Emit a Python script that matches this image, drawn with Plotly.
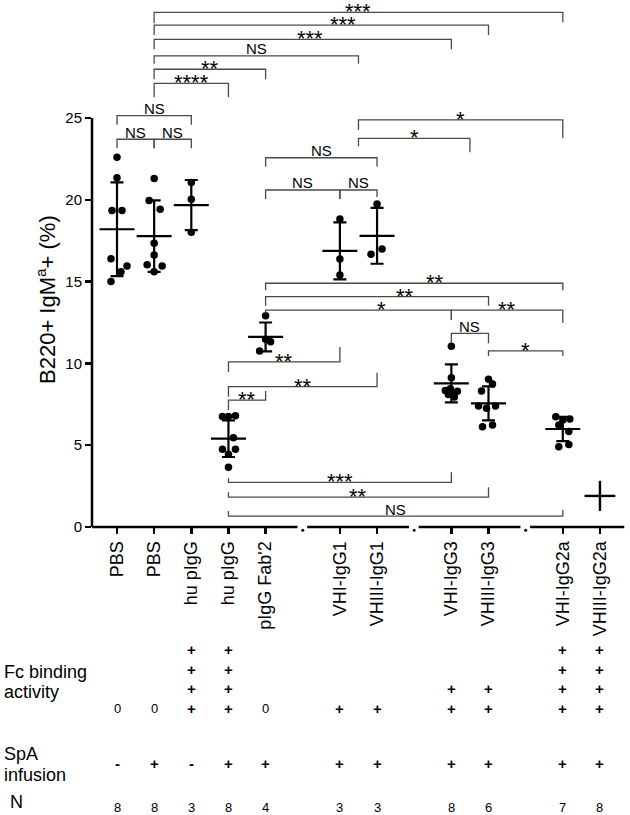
import plotly.graph_objects as go

# ---------------- data ----------------
groups = ["PBS", "PBS", "hu pIgG", "hu pIgG", "pIgG Fab'2", "VHI-IgG1", "VHIII-IgG1",
          "VHI-IgG3", "VHIII-IgG3", "VHI-IgG2a", "VHIII-IgG2a"]
slots = [0, 1, 2, 3, 4, 6, 7, 9, 10, 12, 13]
break_slots = [5, 8, 11]

points = [
    [22.6, 21.35, 19.35, 19.35, 16.4, 15.95, 15.6, 15.0],
    [21.3, 19.95, 19.42, 17.34, 16.63, 16.03, 15.95, 15.6],
    [21.05, 20.03, 18.01],
    [6.75, 6.75, 6.8, 5.45, 4.75, 4.75, 4.45, 3.65],
    [12.92, 11.47, 11.33, 10.76],
    [18.83, 16.38, 15.4],
    [19.74, 16.67, 16.99],
    [11.05, 9.13, 8.35, 8.3, 8.25, 8.1, 7.95, 8.45],
    [9.03, 8.74, 8.31, 7.4, 7.26, 7.4, 6.13, 6.23],
    [6.74, 6.54, 6.6, 6.23, 5.83, 4.91, 5.05],
    [],
]
jitter_px = [
    [0, 0, -5, 5, -6, 10, 4, -6],
    [0, -5, 6, 0, 0, -7, 8, 0],
    [0, 0, 0],
    [-6, 0, 7, 5, -6, 7, 0, 0],
    [0, 0, 5, -6],
    [0, 0, 0],
    [0, -6, 5],
    [0, 0, -6, 6, 0, -3, 3, -1],
    [0, 4, -7, -10, -2, 7, -6, 4],
    [-7, 0, 7, -4, 6, -4, 6],
    [],
]
means = [18.2, 17.78, 19.68, 5.4, 11.62, 16.88, 17.8, 8.78, 7.56, 5.99, 1.9]
sds = [2.86, 2.19, 1.53, 1.12, 0.88, 1.74, 1.71, 1.16, 1.04, 0.74, 0.92]

y_ticks = [0, 5, 10, 15, 20, 25]

fc_binding = [0, 0, 4, 4, 0, 1, 1, 2, 2, 4, 4]
spa_infusion = ["-", "+", "-", "+", "+", "+", "+", "+", "+", "+", "+"]
n_values = [8, 8, 3, 8, 4, 3, 3, 8, 6, 7, 8]

# brackets: (from slot, to slot, level, label, left tick px (+down), right tick px (+down), label dx px)
brackets = [
    (1, 12, 31.46, "***", 11, 10, 0),
    (1, 10, 30.68, "***", 10, 10, 22),
    (1, 9, 29.81, "***", 10, 10, 7),
    (1, 6.5, 28.80, "NS", 8, 8, 0),
    (1, 4, 27.98, "**", 10, 10, 0),
    (1, 3, 27.12, "****", 14, 14, 0),
    (0, 2, 25.14, "NS", 9, 9, 0),
    (0, 1, 23.70, "NS", 9, 9, 0),
    (1, 2, 23.70, "NS", 9, 9, 0),
    (6.5, 12, 24.88, "*", 10, 18, 0),
    (6.5, 9.5, 23.76, "*", 8, 14, 0),
    (4, 7, 22.57, "NS", 9, 9, 0),
    (4, 6, 20.60, "NS", 9, 9, 0),
    (6, 7, 20.60, "NS", 9, 7, 0),
    (4, 12, 14.90, "**", 7, 7, 21),
    (4, 10, 14.08, "**", 9, 9, 28),
    (4, 9, 13.26, "*", 4, 10, 23),
    (9, 12, 13.26, "**", 10, 13, 0),
    (9, 10, 11.84, "NS", 10, 10, 0),
    (10, 12, 10.76, "*", 5, 5, 0),
    (3, 6, 10.09, "**", 10, -15, 0),
    (3, 7, 8.58, "**", 10, -14, 0),
    (3, 4, 7.76, "**", 10, -9, 0),
    (3, 9, 2.73, "***", -4, -10, 0),
    (3, 10, 1.82, "**", -5, -10, 0),
    (3, 12, 0.67, "NS", -5, -6, 0),
]

# ---------------- geometry ----------------
W, H = 630, 815
L, R, T, B = 92, 5, 4, 536
PX_PER_Y = 16.36
PX_PER_X = 37.15
X0_PX = 117
y_zero_px = 527
ymin = -(B - y_zero_px) / PX_PER_Y
ymax = ymin + (B - T) / PX_PER_Y
xmin = (L - X0_PX) / PX_PER_X
xmax = xmin + (W - L - R) / PX_PER_X

FONT = "Liberation Sans, Arial, Helvetica, sans-serif"


def paper_y(px):
    return (B - px) / (B - T)


def paper_x(px):
    return (px - L) / (W - L - R)


fig = go.Figure()

# data points
px_, py_ = [], []
for s, vals, jit in zip(slots, points, jitter_px):
    for v, j in zip(vals, jit):
        px_.append(s + j / PX_PER_X)
        py_.append(v)
fig.add_trace(go.Scatter(x=px_, y=py_, mode="markers",
                         marker=dict(symbol="circle", size=7.5, color="black"),
                         hoverinfo="skip", showlegend=False))

# mean +/- SD
idx_pts = [i for i in range(len(groups)) if points[i]]
idx_nopts = [i for i in range(len(groups)) if not points[i]]
fig.add_trace(go.Scatter(
    x=[slots[i] for i in idx_pts], y=[means[i] for i in idx_pts], mode="markers",
    marker=dict(symbol="line-ew", size=25, line=dict(width=2.2, color="black")),
    error_y=dict(type="data", array=[sds[i] for i in idx_pts], visible=True,
                 thickness=2.2, width=6.5, color="black"),
    hoverinfo="skip", showlegend=False))
fig.add_trace(go.Scatter(
    x=[slots[i] for i in idx_nopts], y=[means[i] for i in idx_nopts], mode="markers",
    marker=dict(symbol="line-ew", size=22, line=dict(width=2.4, color="black")),
    error_y=dict(type="data", array=[sds[i] for i in idx_nopts], visible=True,
                 thickness=2.4, width=0, color="black"),
    hoverinfo="skip", showlegend=False))

shapes = []
annotations = []

# brackets
BR_COLOR = "#4a4a4a"
for (a, b, lvl, lab, tl, tr, dx) in brackets:
    yl = lvl - tl / PX_PER_Y
    yr = lvl - tr / PX_PER_Y
    path = f"M {a},{yl} L {a},{lvl} L {b},{lvl} L {b},{yr}"
    shapes.append(dict(type="path", path=path, xref="x", yref="y",
                       line=dict(color=BR_COLOR, width=1.3)))
    is_ast = lab.startswith("*")
    annotations.append(dict(
        x=(a + b) / 2 + dx / PX_PER_X, y=lvl, xref="x", yref="y",
        text=lab, showarrow=False, xanchor="center", yanchor="middle",
        yshift=0.5 if is_ast else 7,
        font=dict(family=FONT, size=22 if is_ast else 15, color="black")))

# y axis line
shapes.append(dict(type="line", xref="paper", yref="y", x0=0, x1=0, y0=0, y1=25,
                   line=dict(color="black", width=2.5)))

# broken x axis
seg_edges = [xmin] + sum([[b - 0.14, b + 0.12] for b in break_slots], []) + [xmax - 0.02]
for k in range(0, len(seg_edges), 2):
    shapes.append(dict(type="line", xref="x", yref="y", x0=seg_edges[k], x1=seg_edges[k + 1],
                       y0=0, y1=0, line=dict(color="black", width=2.5)))
for b in break_slots:
    shapes.append(dict(type="circle", xref="x", yref="y",
                       x0=b - 1.5 / PX_PER_X, x1=b + 1.5 / PX_PER_X,
                       y0=-0.2 - 1.5 / PX_PER_Y, y1=-0.2 + 1.5 / PX_PER_Y,
                       fillcolor="black", line=dict(width=0)))

# y title
annotations.append(dict(x=paper_x(46), y=(527 - 300) / PX_PER_Y, xref="paper", yref="y",
                        text="B220+ IgM<sup>a</sup>+ (%)", textangle=-90, showarrow=False,
                        xanchor="center", yanchor="middle",
                        font=dict(family=FONT, size=22, color="black")))

# table
row_fc_px = [708, 688.5, 669, 649.3]
for s, fc, sp, n in zip(slots, fc_binding, spa_infusion, n_values):
    if fc == 0:
        annotations.append(dict(x=s, y=paper_y(708), xref="x", yref="paper", text="0",
                                showarrow=False, xanchor="center", yanchor="middle",
                                font=dict(family=FONT, size=13, color="black")))
    else:
        for r in range(fc):
            annotations.append(dict(x=s, y=paper_y(row_fc_px[r]), xref="x", yref="paper",
                                    text="<b>+</b>", showarrow=False, xanchor="center",
                                    yanchor="middle",
                                    font=dict(family=FONT, size=15, color="black")))
    annotations.append(dict(x=s, y=paper_y(763), xref="x", yref="paper", text=f"<b>{sp}</b>",
                            showarrow=False, xanchor="center", yanchor="middle",
                            font=dict(family=FONT, size=15, color="black")))
    annotations.append(dict(x=s, y=paper_y(807), xref="x", yref="paper", text=str(n),
                            showarrow=False, xanchor="center", yanchor="middle",
                            font=dict(family=FONT, size=13, color="black")))

row_labels = [("Fc binding", 672), ("activity", 692), ("SpA", 754), ("infusion", 775), ("N", 802)]
for txt, ypx in row_labels:
    annotations.append(dict(x=paper_x(2 if txt != "N" else 8), y=paper_y(ypx), xref="paper",
                            yref="paper", text=txt, showarrow=False, xanchor="left",
                            yanchor="middle", font=dict(family=FONT, size=18, color="black")))

fig.update_layout(
    width=W, height=H,
    margin=dict(l=L, r=R, t=T, b=H - B, pad=0),
    plot_bgcolor="white", paper_bgcolor="white",
    showlegend=False,
    shapes=shapes, annotations=annotations,
    xaxis=dict(range=[xmin, xmax], tickmode="array", tickvals=slots, ticktext=groups,
               tickangle=-90, ticks="outside", ticklen=6, tickwidth=2.5, tickcolor="black",
               showline=False, showgrid=False, zeroline=False,
               anchor="free", position=(0 - ymin) / (ymax - ymin),
               tickfont=dict(family=FONT, size=18, color="black")),
    yaxis=dict(range=[ymin, ymax], tickmode="array", tickvals=y_ticks,
               ticks="outside", ticklen=6, tickwidth=2.5, tickcolor="black",
               showline=False, showgrid=False, zeroline=False,
               tickfont=dict(family=FONT, size=15, color="black")),
)

fig.write_html("out.html", config={"displayModeBar": False, "staticPlot": True},
               post_script="document.body.style.margin='0px';document.body.style.overflow='hidden';")
